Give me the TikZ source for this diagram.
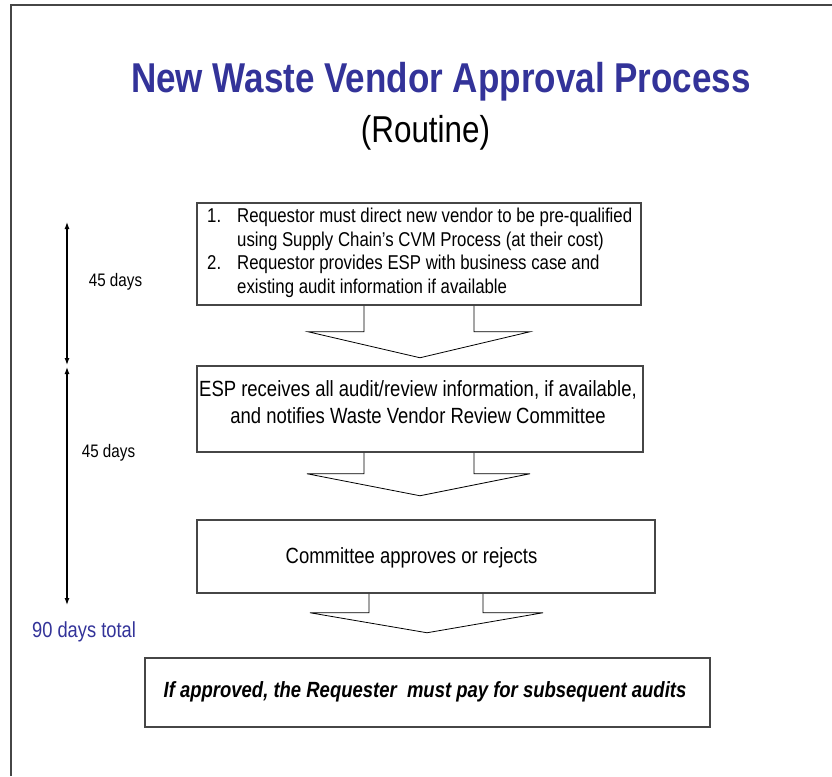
\documentclass[tikz,border=0pt]{standalone}
\usepackage{fontspec}
\setmainfont{Liberation Sans}[FakeStretch=0.84]
\usetikzlibrary{arrows.meta,calc}
\definecolor{titleblue}{RGB}{51,51,153}
\definecolor{edgegray}{RGB}{70,70,70}
\begin{document}
\begin{tikzpicture}[x=1pt,y=-1pt,
  boxstyle/.style={draw=edgegray,line width=1.5pt,fill=white,rectangle,inner sep=0pt},
  blockarrow/.style={draw=black,line width=0.8pt,line join=miter},
  txt/.style={font=\fontsize{20}{23.5}\selectfont,inner sep=0pt},
  bigtxt/.style={font=\fontsize{22}{27}\selectfont,inner sep=0pt},
  span/.style={draw=black,line width=1.2pt,{Latex[length=7pt,width=5pt]}-{Latex[length=7pt,width=5pt]}}
]
\useasboundingbox (0,0) rectangle (832,776);
% page border
\draw[draw=edgegray,line width=2pt] (11,776) -- (11,5) -- (832,5);

% title
\node[font=\bfseries\fontsize{41.7}{46}\selectfont,text=titleblue,inner sep=0pt] (title) at (441,82) {New Waste Vendor Approval Process};
\node[font=\fontsize{37.4}{42}\selectfont,inner sep=0pt] (sub) at (425.5,133) {(Routine)};

% boxes
\node[boxstyle,minimum width=444pt,minimum height=102pt] (b1) at (419,254) {};
\node[boxstyle,minimum width=446pt,minimum height=86pt] (b2) at (420,409) {};
\node[boxstyle,minimum width=458pt,minimum height=73pt] (b3) at (426,556.5) {};
\node[boxstyle,minimum width=565pt,minimum height=69pt] (b4) at (427.5,692.5) {};

% box texts
\node[txt,anchor=west,align=left] (t1) at (207,253) {\makebox[30pt][l]{1.}Requestor must direct new vendor to be pre-qualified\\
\hspace*{30pt}using Supply Chain’s CVM Process (at their cost)\\
\makebox[30pt][l]{2.}Requestor provides ESP with business case and\\
\hspace*{30pt}existing audit information if available};
\node[bigtxt,align=center] (t2) at (418,402.5) {ESP receives all audit/review information, if available,\\and notifies Waste Vendor Review Committee};
\node[bigtxt] (t3) at (411.5,558) {Committee approves or rejects};
\node[txt,font=\bfseries\itshape\fontsize{22}{26}\selectfont] (t4) at (425,692) {If approved, the Requester\ \ must pay for subsequent audits};

% block arrows
\draw[blockarrow] ($(b1.south)+(-55,0)$) -- ++(0,26) -- ($(b1.south)+(-111,26)$) -- ($(b1.south)+(1,52)$) -- ($(b1.south)+(111,26)$) -- ($(b1.south)+(55,26)$) -- ++(0,-26);
\draw[blockarrow] ($(b2.south)+(-56,0)$) -- ++(0,21) -- ($(b2.south)+(-113,21)$) -- ($(b2.south)+(0,43)$) -- ($(b2.south)+(110,21)$) -- ($(b2.south)+(54,21)$) -- ++(0,-21);
\draw[blockarrow] ($(b3.south)+(-57,0)$) -- ++(0,19) -- ($(b3.south)+(-116,19)$) -- ($(b3.south)+(1,39)$) -- ($(b3.south)+(117,19)$) -- ($(b3.south)+(57,19)$) -- ++(0,-19);

% time spans
\coordinate (s1) at (67,222);
\coordinate (s2) at (67,365);
\coordinate (s3) at (67,367);
\coordinate (s4) at (67,605);
\draw[span] (s1) -- (s2);
\draw[span] (s3) -- (s4);
\node[txt,font=\fontsize{18.1}{21}\selectfont] (d1) at (115.5,282) {45 days};
\node[txt,font=\fontsize{18.1}{21}\selectfont] (d2) at (108.5,453) {45 days};
\node[txt,font=\fontsize{21.8}{25}\selectfont,text=titleblue] (d3) at (84,632) {90 days total};
\end{tikzpicture}
\end{document}
